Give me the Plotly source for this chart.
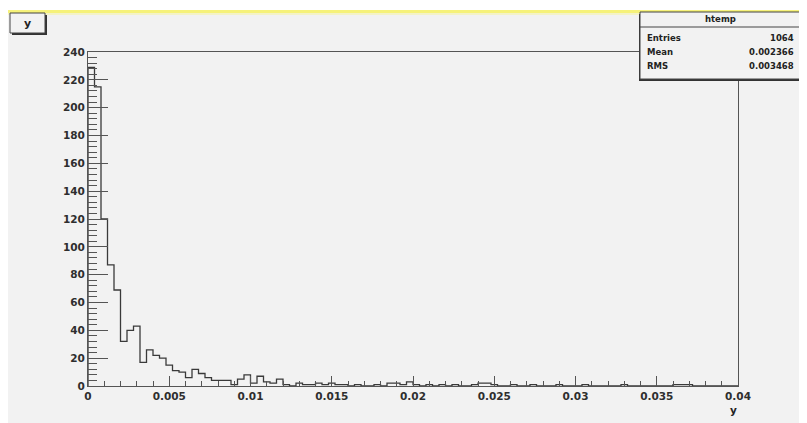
import plotly.graph_objects as go

# ---- data ----
bin_width = 0.0004
n_bins = 100
counts = [229, 215, 120, 87, 69, 32, 40, 43, 17, 26, 22, 20,
          15, 11, 10, 6, 12, 9, 6, 4, 4, 4, 1, 5, 8, 2, 7, 3, 2,
          5, 1, 0, 2, 1, 1, 2, 1, 2, 1, 1, 0, 1, 0, 0, 1, 0, 2, 2, 1,
          3, 1, 0, 1, 0, 1, 0, 1, 0, 0, 1,
          2, 2, 1, 0, 0, 1, 0, 0, 1, 0, 0, 0, 1, 0, 0, 0, 1, 0, 0, 0,
          0, 0, 1, 0, 0, 0, 0, 0, 0, 0, 1, 1, 1, 0, 0, 0, 0, 0, 0, 0]
x_tick_vals = [0, 0.005, 0.01, 0.015, 0.02, 0.025, 0.03, 0.035, 0.04]
x_tick_text = ["0", "0.005", "0.01", "0.015", "0.02", "0.025", "0.03", "0.035", "0.04"]
y_tick_vals = list(range(0, 241, 20))
stats_title = "htemp"
stats_labels = ["Entries", "Mean", "RMS"]
stats_values = ["1064", "0.002366", "0.003468"]
hist_title = "y"
x_title = "y"

# ---- geometry (page body has an 8px margin) ----
OFF = 8
W, H = 807 - OFF, 423 - OFF
L, T = 88 - OFF, 52 - OFF
R = W - (738 - OFF)
B = H - (386 - OFF)
PW, PH = W - L - R, H - T - B

def px(x):
    return (x - OFF - L) / PW

def py(y):
    return (H - B - (y - OFF)) / PH

edges = [i * bin_width for i in range(n_bins + 1)]
xs = [edges[0]] + edges[:-1] + [edges[-1], edges[-1]]
ys = [0] + counts + [counts[-1], 0]

fig = go.Figure()
fig.add_trace(go.Scatter(x=xs, y=ys, mode="lines", line_shape="hv",
                         line=dict(color="#3a3a3a", width=1.3),
                         hoverinfo="skip", showlegend=False))

font_family = "DejaVu Sans, sans-serif"
tick_font = dict(family=font_family, size=10.5, color="#2e2e2e", weight="bold")

fig.update_layout(
    width=W, height=H,
    margin=dict(l=L, r=R, t=T, b=B),
    paper_bgcolor="#f2f2f2", plot_bgcolor="#f2f2f2",
    showlegend=False,
    xaxis=dict(range=[0, 0.04], tickvals=x_tick_vals, ticktext=x_tick_text,
               ticks="inside", ticklen=10, tickcolor="#555", tickwidth=1,
               minor=dict(dtick=0.001, ticks="inside", ticklen=5, tickcolor="#555"),
               showline=True, mirror=True, linecolor="#555", linewidth=1.2,
               showgrid=False, zeroline=False, tickfont=tick_font),
    yaxis=dict(range=[0, 240], tickvals=y_tick_vals,
               ticks="inside", ticklen=20, tickcolor="#555", tickwidth=1,
               minor=dict(dtick=4, ticks="inside", ticklen=9, tickcolor="#555"),
               showline=True, mirror=True, linecolor="#555", linewidth=1.2,
               showgrid=False, zeroline=False, tickfont=tick_font),
)

shapes = []
# white strip and yellow line at the top of the canvas
shapes.append(dict(type="rect", xref="paper", yref="paper", x0=px(0), x1=px(820),
                   y0=py(0), y1=py(10), fillcolor="white", line=dict(width=0), layer="below"))
shapes.append(dict(type="rect", xref="paper", yref="paper", x0=px(0), x1=px(820),
                   y0=py(10), y1=py(13), fillcolor="#f6f27a", line=dict(width=0), layer="below"))
shapes.append(dict(type="rect", xref="paper", yref="paper", x0=px(0), x1=px(820),
                   y0=py(13), y1=py(15), fillcolor="#f4f3c8", line=dict(width=0), layer="below"))

# title box "y"
shapes.append(dict(type="rect", xref="paper", yref="paper", x0=px(12), x1=px(47),
                   y0=py(15), y1=py(35), fillcolor="#333", line=dict(width=0)))
shapes.append(dict(type="rect", xref="paper", yref="paper", x0=px(10), x1=px(45),
                   y0=py(13), y1=py(33), fillcolor="#f2f2f2", line=dict(color="#444", width=1)))

# stats box
sx0, sx1, sy0, sy1 = 640, 801, 12, 79
shapes.append(dict(type="rect", xref="paper", yref="paper", x0=px(sx0 - 1), x1=px(sx1 - 1),
                   y0=py(sy0 + 2), y1=py(sy1 + 2), fillcolor="#333", line=dict(width=0)))
shapes.append(dict(type="rect", xref="paper", yref="paper", x0=px(sx0), x1=px(sx1),
                   y0=py(sy0), y1=py(sy1), fillcolor="#f2f2f2", line=dict(color="#444", width=1)))
shapes.append(dict(type="line", xref="paper", yref="paper", x0=px(sx0), x1=px(sx1),
                   y0=py(27), y1=py(27), line=dict(color="#444", width=1)))
fig.update_layout(shapes=shapes)

ann = []
stat_font = dict(family=font_family, size=8.5, color="#222", weight="bold")
ann.append(dict(text=hist_title, xref="paper", yref="paper", x=px(27.5), y=py(23),
                showarrow=False, font=dict(family=font_family, size=11, color="#222", weight="bold"),
                xanchor="center", yanchor="middle"))
ann.append(dict(text=stats_title, xref="paper", yref="paper", x=px((sx0 + sx1) / 2), y=py(19.5),
                showarrow=False, font=stat_font, xanchor="center", yanchor="middle"))
row_y = [38, 52, 66]
for lab, val, yy in zip(stats_labels, stats_values, row_y):
    ann.append(dict(text=lab, xref="paper", yref="paper", x=px(645), y=py(yy),
                    showarrow=False, font=stat_font, xanchor="left", yanchor="middle"))
    ann.append(dict(text=val, xref="paper", yref="paper", x=px(796), y=py(yy),
                    showarrow=False, font=stat_font, xanchor="right", yanchor="middle"))
ann.append(dict(text=x_title, xref="paper", yref="paper", x=px(733), y=py(410),
                showarrow=False, font=dict(family=font_family, size=10.5, color="#222", weight="bold"),
                xanchor="center", yanchor="middle"))
fig.update_layout(annotations=ann)

fig.write_html("out.html")
